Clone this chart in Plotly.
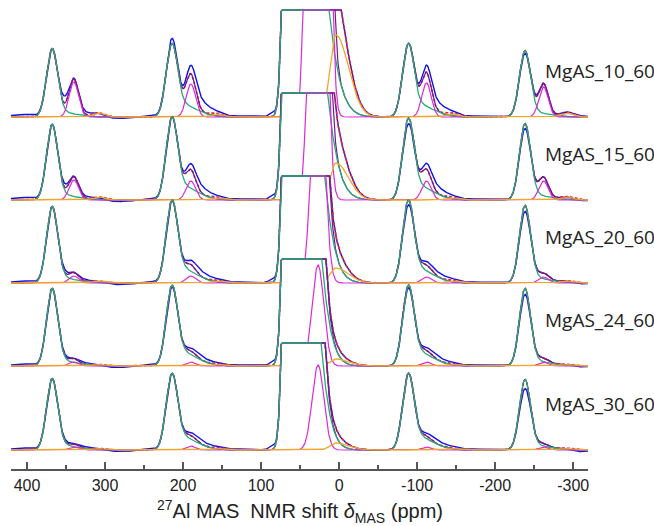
import numpy as np
import plotly.graph_objects as go

# ---------------- data ----------------
spectra = ["MgAS_10_60", "MgAS_15_60", "MgAS_20_60", "MgAS_24_60", "MgAS_30_60"]
offsets = [352, 269, 186, 103, 19]          # vertical stacking offset of each spectrum
clip_height = 107                            # central band is cut at this height

# isotropic (central) band components
green_iso_pos = 63
green_iso_amp = [600, 600, 600, 600, 600]
green_iso_wl = [6, 6, 6, 6, 6]
green_iso_wr = [27, 26, 24, 22, 21.5]

magenta_iso_pos = 27
magenta_iso_amp = [3400, 880, 273, 101, 85]
magenta_iso_w = 7.5

orange_iso_pos = 4
orange_iso_amp = [82, 37, 15, 7, 7]
orange_iso_wl = 7.5
orange_iso_wr = 16

# spinning sidebands
green_sb_pos = [368, 215, -88, -238]
green_sb_h = [[67, 69, 69, 65], [74, 78, 77, 75], [75, 78, 78, 76],
              [76, 76, 76, 76], [70, 72, 72, 69]]
green_sb_w = 7
green_tail_shift = 8
green_tail_frac = [0.07, 0.2, 0.2, 0.07]
green_tail_wl = 5
green_tail_wr = 22

magenta_sb_pos = [340, 190, -112, -262]
magenta_sb_h = [[35, 33, 34, 30], [20, 19, 19, 19], [7, 7, 6, 6],
                [4, 4, 4, 4], [3, 4, 3, 3]]
magenta_sb_w = 6

orange_sb_pos = [308, 156, -145, -292]
orange_sb_h = [[4, 3, 3, 4], [3, 2, 2, 3], [2, 2, 2, 2],
               [1.5, 1.5, 1.5, 1.5], [1.5, 1.5, 1.5, 1.5]]
orange_sb_w = 8

# deviations of the measured spectrum (blue) from the fit
blue_dev_pos = [405, 352, 325, 285, 245, 215, 180, 130, 86, -88, -122, -170, -238, -250, -305]
blue_dev_w = [15, 5, 8, 25, 10, 6, 12, 20, 4, 6, 12, 20, 6, 5, 12]
blue_dev_h = [
    [2.5, 7, 3, -1.5, 2, 5, 12, 1, 4, 0, 10, 1, -3, 2, 1],
    [2.5, 4, 2, -1.5, 2, 0, 8, 1, 4, -6, 8, 1, -5, 1, -1],
    [2, 3, 2, -1.5, 2, -1, 6, 1, 4, -5, 5, 1, -6, 1, -1],
    [2, 2, 2, -1.5, 2, -2, 4, 1, 4, -3, 4, 1, -6, 1, -1],
    [2, 2, 2, -1.5, 1.5, 0, 4, 1, 4, 0, 4, 1, -9, 1, -2],
]

x_ticks = [400, 300, 200, 100, 0, -100, -200, -300]
x_tick_labels = ["400", "300", "200", "100", "0", "-100", "-200", "-300"]

# ---------------- colours ----------------
C_BLUE = "#1010F0"
C_GREEN = "#27AA78"
C_MAG = "#DC2ADC"
C_ORANGE = "#F2A52A"
C_PURPLE = "#6B1E8E"
C_RED = "#E8242C"

x = np.linspace(420.5, -319, 1500)


def agauss(xv, c, a, wl, wr):
    w = np.where(xv >= c, wl, wr)
    return a * np.exp(-0.5 * ((xv - c) / w) ** 2)


fig = go.Figure()

for k, name in enumerate(spectra):
    off = offsets[k]
    green = agauss(x, green_iso_pos, green_iso_amp[k], green_iso_wl[k], green_iso_wr[k])
    for p, h, tf in zip(green_sb_pos, green_sb_h[k], green_tail_frac):
        green += agauss(x, p, h, green_sb_w, green_sb_w)
        green += agauss(x, p - green_tail_shift, h * tf, green_tail_wl, green_tail_wr)
    mag = agauss(x, magenta_iso_pos, magenta_iso_amp[k], magenta_iso_w, magenta_iso_w)
    for p, h in zip(magenta_sb_pos, magenta_sb_h[k]):
        mag += agauss(x, p, h, magenta_sb_w, magenta_sb_w)
    orange = agauss(x, orange_iso_pos, orange_iso_amp[k], orange_iso_wl, orange_iso_wr)
    for p, h in zip(orange_sb_pos, orange_sb_h[k]):
        orange += agauss(x, p, h, orange_sb_w, orange_sb_w)
    purple = green + mag
    red = purple + orange
    blue = red.copy()
    for p, h, w in zip(blue_dev_pos, blue_dev_h[k], blue_dev_w):
        blue += agauss(x, p, h, w, w)

    curves = {}
    for key, arr in [("blue", blue), ("red", red), ("purple", purple),
                     ("green", green), ("mag", mag), ("orange", orange)]:
        curves[key] = np.minimum(arr, clip_height) + off

    env = np.maximum.reduce([curves[c] for c in curves])
    env = np.maximum(env, off)
    fig.add_trace(go.Scatter(
        x=np.concatenate([x, x[::-1]]),
        y=np.concatenate([env + 0.8, np.full_like(x, off - 0.5)]),
        fill="toself", fillcolor="white", mode="none", hoverinfo="skip",
        showlegend=False))

    styles = [("blue", C_BLUE, 1.4, "solid"), ("red", C_RED, 1.6, "3px,2px"),
              ("purple", C_PURPLE, 1.2, "solid"), ("green", C_GREEN, 1.3, "solid"),
              ("mag", C_MAG, 1.2, "solid"), ("orange", C_ORANGE, 1.3, "solid")]
    for key, col, lw, dash in styles:
        fig.add_trace(go.Scatter(x=x, y=curves[key], mode="lines",
                                 line=dict(color=col, width=lw, dash=dash),
                                 hoverinfo="skip", showlegend=False))

    fig.add_annotation(x=(543 - 11) / 577, xref="paper", xanchor="left",
                       y=off + 46, yref="y", yanchor="middle",
                       text=name, showarrow=False,
                       font=dict(family="Open Sans", size=19, color="#222"))

fig.add_annotation(x=0.5, xref="paper", y=-(511 - 469) / 469, yref="paper",
                   xanchor="center", yanchor="middle", showarrow=False,
                   text="<sup>27</sup>Al MAS  NMR shift <i>δ</i><sub>MAS</sub> (ppm)",
                   font=dict(family="Liberation Sans, Arial", size=20, color="#222"))

fig.update_layout(
    width=654, height=526,
    margin=dict(l=11, r=66, t=0, b=57),
    paper_bgcolor="white", plot_bgcolor="white",
    xaxis=dict(range=[420.5, -319], tickvals=x_ticks, ticktext=x_tick_labels,
               showgrid=False, zeroline=False, showline=True,
               linecolor="#555", linewidth=1.5,
               ticks="inside", ticklen=7, tickwidth=1.5, tickcolor="#555",
               minor=dict(ticks="inside", dtick=50, tick0=0, ticklen=4,
                          tickwidth=1.5, tickcolor="#555"),
               tickfont=dict(family="Liberation Sans, Arial", size=16, color="#222"),
               ticklabelstandoff=1),
    yaxis=dict(range=[0, 469], visible=False, showgrid=False, zeroline=False),
)

fig.write_html("out.html")
